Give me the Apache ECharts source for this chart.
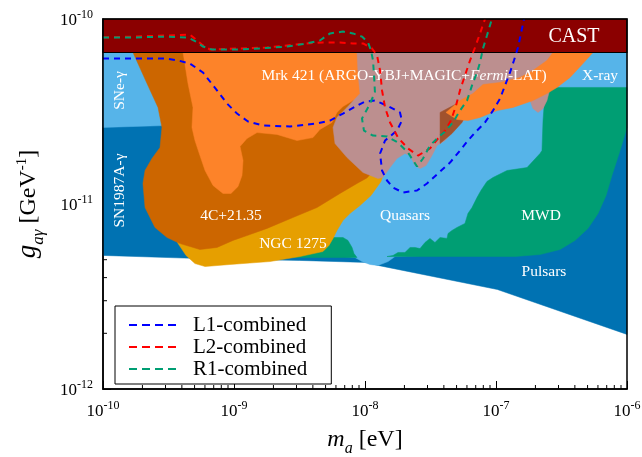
<!DOCTYPE html>
<html>
<head>
<meta charset="utf-8">
<script src="https://cdn.jsdelivr.net/npm/echarts@6/dist/echarts.min.js"></script>
<style>
  html, body { margin: 0; padding: 0; background: #fff; }
  #main { width: 642px; height: 457px; }
</style>
</head>
<body>
<div id="main"></div>
<script>
// every point is [log10(m_a / eV), log10(g_ag / GeV^-1)]

const xDecades = [-10, -9, -8, -7, -6]
const yDecades = [-12, -11, -10]
const minorMultipliers = [2, 3, 4, 5, 6, 7, 8, 9]

// SN1987A-gamma + pulsars (dark blue base)
const snPulsars = [[-10, -10.181], [-6, -10.181], [-6, -11.705], [-6.99, -11.462], [-7.90, -11.332],
  [-7.985, -11.316], [-8.50, -11.305], [-9.26, -11.295], [-10, -11.278]]

const sneGamma = [[-10, -10.181], [-9.641, -10.181], [-9.527, -10.576], [-10, -10.586]]

// quasars + X-ray (light blue)
const quasarsXray = [[-8.344, -10.181], [-6, -10.181], [-6, -10.386], [-6.511, -10.386], [-6.626, -11.251],
  [-7.771, -11.284], [-7.824, -11.311], [-7.901, -11.332], [-7.962, -11.327], [-8.023, -11.311],
  [-8.076, -11.289], [-8.153, -11.284], [-8.344, -11.251]]

const mwd = [[-6.611, -10.370], [-6, -10.370], [-6, -10.586], [-6.053, -10.711], [-6.115, -10.846],
  [-6.160, -10.954], [-6.221, -11.051], [-6.298, -11.132], [-6.397, -11.197], [-6.511, -11.246],
  [-6.664, -11.273], [-6.855, -11.284], [-7.832, -11.284], [-7.786, -11.278], [-7.748, -11.262],
  [-7.695, -11.262], [-7.656, -11.235], [-7.618, -11.235], [-7.580, -11.241], [-7.542, -11.208],
  [-7.504, -11.186], [-7.466, -11.208], [-7.427, -11.181], [-7.374, -11.186], [-7.366, -11.159],
  [-7.336, -11.143], [-7.298, -11.127], [-7.237, -11.105], [-7.214, -11.051], [-7.183, -11.019],
  [-7.145, -10.965], [-7.115, -10.927], [-7.069, -10.878], [-7.023, -10.857], [-6.916, -10.819],
  [-6.763, -10.803], [-6.664, -10.727], [-6.649, -10.711], [-6.641, -10.549], [-6.626, -10.403]]

const mwdPatch = [[-8.878, -11.289], [-8.328, -11.251], [-8.244, -11.181], [-8.168, -11.181],
  [-8.130, -11.197], [-8.099, -11.235], [-8.084, -11.268], [-8.061, -11.289]]

const ngc1275 = [[-9.473, -11.143], [-9.427, -11.214], [-9.366, -11.278], [-9.298, -11.322],
  [-9.221, -11.338], [-9.031, -11.327], [-8.725, -11.311], [-8.496, -11.284], [-8.321, -11.257],
  [-8.275, -11.224], [-8.244, -11.186], [-8.214, -11.143], [-8.168, -11.089], [-8.115, -11.051],
  [-8.038, -11.008], [-7.954, -10.954], [-7.878, -10.878], [-7.855, -10.830], [-8.191, -10.792],
  [-8.878, -10.954]]

const c4c2135 = [[-9.771, -10.181], [-9.664, -10.349], [-9.580, -10.478], [-9.550, -10.586],
  [-9.565, -10.695], [-9.626, -10.754], [-9.679, -10.819], [-9.695, -10.889], [-9.679, -11.019],
  [-9.603, -11.127], [-9.511, -11.181], [-9.412, -11.214], [-9.260, -11.246], [-9.130, -11.235],
  [-9.008, -11.197], [-8.878, -11.165], [-8.748, -11.132], [-8.550, -11.073], [-8.366, -11.019],
  [-8.191, -10.943], [-8.061, -10.889], [-7.985, -10.859], [-7.947, -10.830], [-7.924, -10.792],
  [-7.924, -10.181]]

const mrk421 = [[-9.389, -10.181], [-8.000, -10.181], [-8.000, -10.414], [-8.092, -10.441],
  [-8.168, -10.473], [-8.214, -10.505], [-8.252, -10.559], [-8.344, -10.597], [-8.397, -10.641],
  [-8.519, -10.657], [-8.672, -10.624], [-8.824, -10.614], [-8.901, -10.646], [-8.954, -10.689],
  [-8.931, -10.765], [-8.939, -10.846], [-8.969, -10.905], [-9.023, -10.943], [-9.084, -10.943],
  [-9.160, -10.900], [-9.221, -10.819], [-9.260, -10.738], [-9.298, -10.657], [-9.321, -10.586],
  [-9.313, -10.478], [-9.351, -10.349]]

const mrk421Pink = [[-8.061, -10.181], [-6.565, -10.181], [-6.588, -10.376], [-6.611, -10.441],
  [-6.641, -10.484], [-6.679, -10.505], [-6.718, -10.484], [-6.740, -10.441], [-7.198, -10.505],
  [-7.260, -10.559], [-7.389, -10.657], [-7.450, -10.684], [-7.489, -10.738], [-7.534, -10.792],
  [-7.580, -10.808], [-7.618, -10.792], [-7.656, -10.738], [-7.695, -10.727], [-7.756, -10.754],
  [-7.809, -10.803], [-7.863, -10.857], [-7.901, -10.862], [-8.015, -10.830], [-8.137, -10.749],
  [-8.229, -10.673], [-8.244, -10.586], [-8.214, -10.532], [-8.137, -10.478], [-8.038, -10.403],
  [-8.053, -10.295]]

const mrk421Overlap = [[-7.427, -10.505], [-7.298, -10.457], [-7.214, -10.495], [-7.260, -10.559],
  [-7.336, -10.619], [-7.427, -10.673]]

const mrk421Band = [[-7.382, -10.505], [-7.275, -10.441], [-7.176, -10.403], [-7.099, -10.354],
  [-6.969, -10.343], [-6.817, -10.316], [-6.718, -10.278], [-6.611, -10.224], [-6.565, -10.181],
  [-6.260, -10.181], [-6.336, -10.241], [-6.435, -10.316], [-6.534, -10.370], [-6.611, -10.403],
  [-6.718, -10.441], [-6.870, -10.478], [-6.992, -10.495], [-7.122, -10.532], [-7.214, -10.549],
  [-7.298, -10.543]]

const cast = [[-10, -10], [-6, -10], [-6, -10.181], [-10, -10.181]]

const l1Combined = [[-10, -10.214], [-9.511, -10.214], [-9.427, -10.224], [-9.336, -10.241],
  [-9.237, -10.289], [-9.130, -10.386], [-9.053, -10.457], [-8.977, -10.511], [-8.893, -10.554],
  [-8.779, -10.576], [-8.573, -10.581], [-8.366, -10.565], [-8.267, -10.549], [-8.168, -10.511],
  [-8.061, -10.468], [-8.000, -10.446], [-7.924, -10.441], [-7.832, -10.468], [-7.733, -10.505],
  [-7.718, -10.549], [-7.756, -10.603], [-7.847, -10.657], [-7.885, -10.727], [-7.870, -10.819],
  [-7.832, -10.873], [-7.786, -10.911], [-7.710, -10.938], [-7.603, -10.927], [-7.527, -10.889],
  [-7.443, -10.835], [-7.351, -10.776], [-7.275, -10.711], [-7.214, -10.657], [-7.160, -10.614],
  [-7.084, -10.559], [-7.023, -10.495], [-6.969, -10.430], [-6.931, -10.359], [-6.893, -10.289],
  [-6.863, -10.224], [-6.832, -10.154], [-6.786, -10.000]]

const l2Combined = [[-10, -10.100], [-9.771, -10.095], [-9.511, -10.089], [-9.336, -10.084],
  [-9.290, -10.111], [-9.237, -10.143], [-9.183, -10.165], [-8.954, -10.159], [-8.748, -10.154],
  [-8.595, -10.143], [-8.443, -10.132], [-8.321, -10.127], [-8.191, -10.127], [-8.092, -10.132],
  [-8.015, -10.132], [-7.947, -10.159], [-7.908, -10.197], [-7.885, -10.278], [-7.870, -10.386],
  [-7.847, -10.478], [-7.809, -10.559], [-7.748, -10.641], [-7.672, -10.700], [-7.595, -10.738],
  [-7.504, -10.700], [-7.443, -10.646], [-7.389, -10.603], [-7.344, -10.549], [-7.305, -10.468],
  [-7.275, -10.386], [-7.237, -10.305], [-7.198, -10.224], [-7.160, -10.154], [-7.122, -10.078],
  [-7.084, -10.000]]

const r1Combined = [[-10, -10.100], [-9.771, -10.100], [-9.511, -10.095], [-9.351, -10.100],
  [-9.290, -10.122], [-9.237, -10.149], [-9.168, -10.165], [-8.954, -10.165], [-8.802, -10.159],
  [-8.595, -10.149], [-8.443, -10.132], [-8.344, -10.116], [-8.267, -10.078], [-8.168, -10.068],
  [-8.092, -10.078], [-8.023, -10.095], [-7.977, -10.127], [-7.954, -10.170], [-7.939, -10.224],
  [-7.931, -10.305], [-7.924, -10.397], [-7.969, -10.468], [-8.023, -10.538], [-8.008, -10.603],
  [-7.939, -10.630], [-7.832, -10.635], [-7.748, -10.668], [-7.672, -10.722], [-7.603, -10.797],
  [-7.557, -10.754], [-7.504, -10.684], [-7.450, -10.646], [-7.389, -10.608], [-7.328, -10.559],
  [-7.275, -10.495], [-7.221, -10.441], [-7.183, -10.359], [-7.145, -10.289], [-7.122, -10.235],
  [-7.099, -10.159], [-7.069, -10.089], [-7.031, -10.000]]

const regionLabels = [
  { text: '{n|CAST}', at: [-6.405, -10.095], size: 20 },
  { text: '{n|Mrk 421 (ARGO-YBJ+MAGIC+}{i|Fermi}{n|-LAT)}', at: [-7.702, -10.305], size: 15.5 },
  { text: '{n|X-ray}', at: [-6.206, -10.305], size: 15.5 },
  { text: '{n|SNe-γ}', at: [-9.870, -10.386], size: 15.5, rot: true },
  { text: '{n|SN1987A-γ}', at: [-9.870, -10.927], size: 15.5, rot: true },
  { text: '{n|4C+21.35}', at: [-9.023, -11.062], size: 15.5 },
  { text: '{n|NGC 1275}', at: [-8.550, -11.214], size: 15.5 },
  { text: '{n|Quasars}', at: [-7.695, -11.062], size: 15.5 },
  { text: '{n|MWD}', at: [-6.656, -11.062], size: 15.5 },
  { text: '{n|Pulsars}', at: [-6.634, -11.365], size: 15.5 }
]

const FONT = 'Liberation Serif'
const toVal = p => [Math.pow(10, p[0]), Math.pow(10, p[1])]

const regions = [
  { pts: snPulsars, color: '#0072B2' },
  { pts: sneGamma, color: '#56B4E9' },
  { pts: quasarsXray, color: '#56B4E9' },
  { pts: mwd, color: '#009E73' },
  { pts: mwdPatch, color: '#009E73' },
  { pts: ngc1275, color: '#E69F00' },
  { pts: c4c2135, color: '#CC6600' },
  { pts: mrk421, color: '#FD8329' },
  { pts: mrk421Pink, color: '#BC8F8F' },
  { pts: mrk421Overlap, color: '#A0522D' },
  { pts: mrk421Band, color: '#FD8329' },
  { pts: cast, color: '#8B0000', stroke: '#000' }
]

// minor log ticks (drawn under the fills, like the original)
const minorTicks = []
xDecades.slice(0, -1).forEach(d => minorMultipliers.forEach(k => minorTicks.push([k * Math.pow(10, d), 1e-12, 0])))
yDecades.slice(0, -1).forEach(d => minorMultipliers.forEach(k => minorTicks.push([1e-10, k * Math.pow(10, d), 1])))

const decadeLabel = v => '{b|10}{s|' + Math.round(Math.log10(v)) + '}'
const tickRich = {
  b: { fontFamily: FONT, fontSize: 17, color: '#000', verticalAlign: 'bottom' },
  s: { fontFamily: FONT, fontSize: 12, color: '#000', verticalAlign: 'bottom', padding: [0, 0, 8, 0] }
}

// four short dashes, used as the legend sample
const dashIcon = 'path://M0,0h8v2h-8z M13,0h8v2h-8z M26,0h8v2h-8z M39,0h8v2h-8z'

const lineSeries = (name, pts, color) => ({
  name,
  type: 'line',
  data: pts.map(toVal),
  symbol: 'none',
  silent: true,
  lineStyle: { color, width: 2, type: [6, 5] },
  itemStyle: { color }
})

const chart = echarts.init(document.getElementById('main'))

chart.setOption({
  animation: false,
  grid: { left: 103, right: 15, top: 19, bottom: 68, outerBoundsMode: 'none', containLabel: false },
  xAxis: {
    type: 'log',
    logBase: 10,
    min: 1e-10,
    max: 1e-6,
    splitNumber: 4,
    splitLine: { show: false },
    axisLine: { lineStyle: { color: '#000', width: 1.5 } },
    axisTick: { inside: true, length: 8, lineStyle: { color: '#000' } },
    axisLabel: { margin: 11, showMinLabel: true, showMaxLabel: true, formatter: decadeLabel, rich: tickRich },
    name: '{i|m}{sub|a}{n| [eV]}',
    nameLocation: 'middle',
    nameGap: 39,
    nameTextStyle: {
      rich: {
        i: { fontFamily: FONT, fontSize: 24, fontStyle: 'italic', color: '#000', verticalAlign: 'bottom', padding: [0, 0, 5, 0] },
        sub: { fontFamily: FONT, fontSize: 16, fontStyle: 'italic', color: '#000', verticalAlign: 'bottom' },
        n: { fontFamily: FONT, fontSize: 24, color: '#000', verticalAlign: 'bottom', padding: [0, 0, 5, 0] }
      }
    }
  },
  yAxis: {
    type: 'log',
    logBase: 10,
    min: 1e-12,
    max: 1e-10,
    splitNumber: 2,
    splitLine: { show: false },
    axisLine: { lineStyle: { color: '#000', width: 1.5 } },
    axisTick: { inside: true, length: 8, lineStyle: { color: '#000' } },
    axisLabel: { margin: 10, showMinLabel: true, showMaxLabel: true, formatter: decadeLabel, rich: tickRich },
    name: '{i|g}{sub|aγ}{n| [GeV}{sup|-1}{n|]}',
    nameLocation: 'middle',
    nameRotate: 90,
    nameGap: 56,
    nameTextStyle: {
      rich: {
        i: { fontFamily: FONT, fontSize: 27, fontStyle: 'italic', color: '#000', verticalAlign: 'bottom', padding: [0, 0, 6, 0] },
        sub: { fontFamily: FONT, fontSize: 17, fontStyle: 'italic', color: '#000', verticalAlign: 'bottom' },
        n: { fontFamily: FONT, fontSize: 24, color: '#000', verticalAlign: 'bottom', padding: [0, 0, 6, 0] },
        sup: { fontFamily: FONT, fontSize: 15, color: '#000', verticalAlign: 'bottom', padding: [0, 0, 17, 0] }
      }
    }
  },
  legend: {
    data: ['L1-combined', 'L2-combined', 'R1-combined'],
    icon: dashIcon,
    left: 115,
    top: 306,
    orient: 'vertical',
    itemGap: 0,
    itemWidth: 47,
    itemHeight: 2,
    padding: [8, 24, 4, 14],
    borderColor: '#000',
    borderWidth: 1,
    borderRadius: 0,
    backgroundColor: '#fff',
    textStyle: { fontFamily: FONT, fontSize: 21, lineHeight: 22, color: '#000', padding: [0, 0, 0, 12] }
  },
  graphic: [{
    type: 'rect',
    silent: true,
    z: 100,
    shape: { x: 103, y: 19, width: 524, height: 370 },
    style: { fill: 'transparent', stroke: '#000', lineWidth: 1.5 }
  }],
  series: [
    {
      type: 'custom',
      silent: true,
      data: minorTicks,
      renderItem: (params, api) => {
        const p = api.coord([api.value(0), api.value(1)])
        const vertical = api.value(2) === 0
        return {
          type: 'line',
          shape: { x1: p[0], y1: p[1], x2: vertical ? p[0] : p[0] + 4, y2: vertical ? p[1] - 4 : p[1] },
          style: { stroke: '#000', lineWidth: 1 }
        }
      }
    },
    {
      type: 'custom',
      silent: true,
      data: regions.map(r => toVal(r.pts[0])),
      renderItem: (params, api) => {
        const r = regions[params.dataIndex]
        return {
          type: 'polygon',
          shape: { points: r.pts.map(p => api.coord(toVal(p))) },
          style: { fill: r.color, stroke: r.stroke || r.color, lineWidth: r.stroke ? 1.2 : 0.5 }
        }
      }
    },
    lineSeries('L1-combined', l1Combined, '#0000FF'),
    lineSeries('L2-combined', l2Combined, '#FF0000'),
    lineSeries('R1-combined', r1Combined, '#009E73'),
    {
      type: 'custom',
      silent: true,
      data: regionLabels.map(l => toVal(l.at)),
      renderItem: (params, api) => {
        const l = regionLabels[params.dataIndex]
        const p = api.coord(toVal(l.at))
        return {
          type: 'text',
          x: p[0],
          y: p[1],
          rotation: l.rot ? Math.PI / 2 : 0,
          style: {
            text: l.text,
            fill: '#fff',
            align: 'center',
            verticalAlign: 'middle',
            rich: {
              n: { fontFamily: FONT, fontSize: l.size, fill: '#fff', color: '#fff' },
              i: { fontFamily: FONT, fontSize: l.size, fontStyle: 'italic', fill: '#fff', color: '#fff' }
            }
          }
        }
      }
    }
  ]
})
</script>
</body>
</html>
